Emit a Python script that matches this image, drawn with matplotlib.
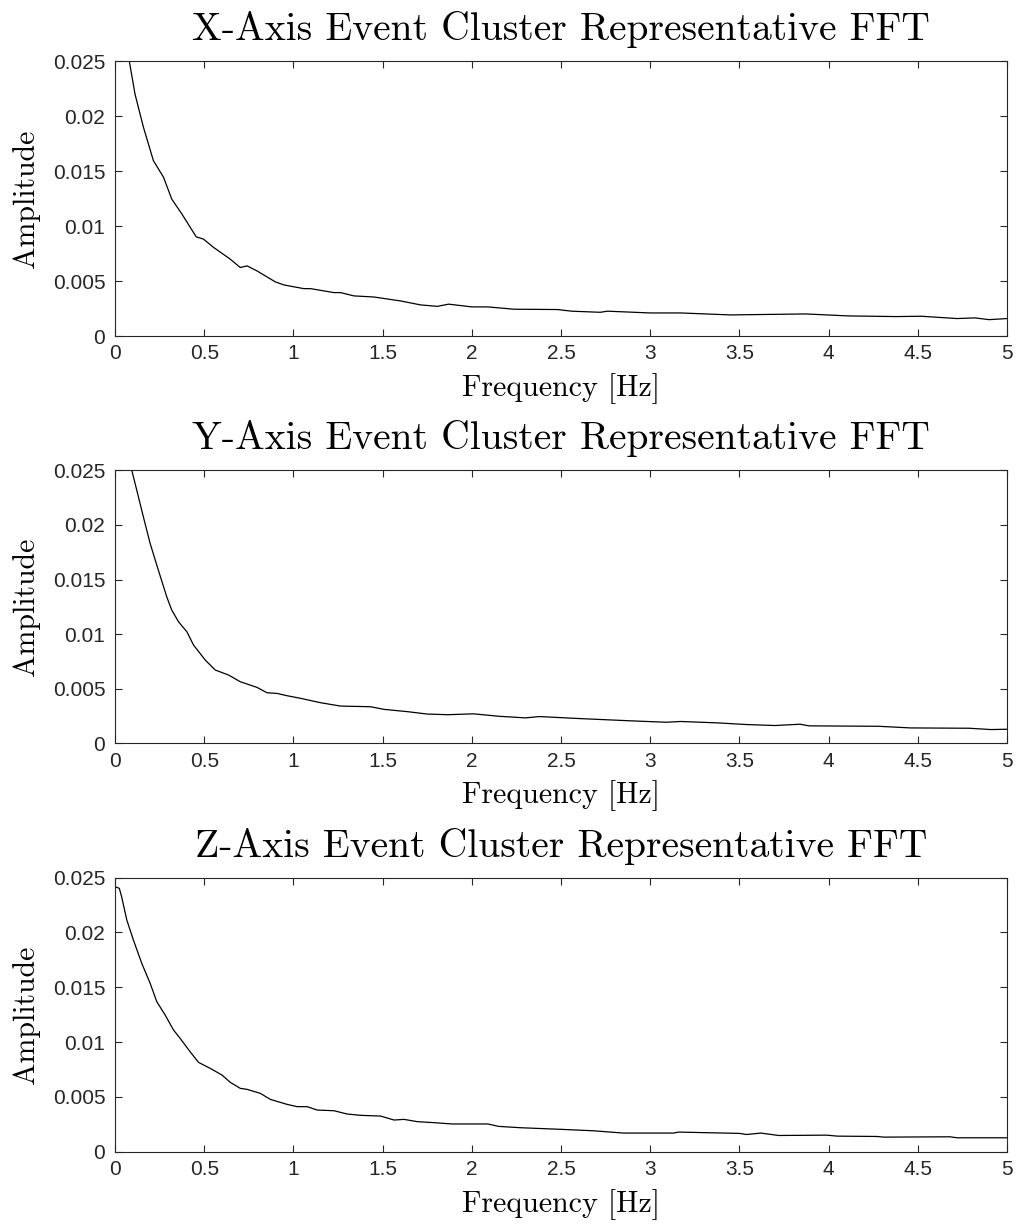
import matplotlib
matplotlib.use("Agg")
import matplotlib.pyplot as plt
import numpy as np

# frequency [Hz] / amplitude values
x_freq = [0.0, 0.04, 0.08, 0.112, 0.159, 0.215, 0.272, 0.318, 0.375, 0.455, 0.496, 0.553,
          0.646, 0.702, 0.740, 0.796, 0.899, 0.946, 1.058, 1.096, 1.227, 1.264, 1.339,
          1.451, 1.601, 1.713, 1.807, 1.87, 2.0, 2.09, 2.235, 2.48, 2.56, 2.72, 2.76,
          3.0, 3.17, 3.45, 3.87, 4.11, 4.38, 4.52, 4.72, 4.82, 4.90, 5.0]
x_amp = [0.031, 0.028, 0.0250, 0.0220, 0.0190, 0.01595, 0.01443, 0.01245, 0.01109, 0.00902,
         0.00881, 0.00805, 0.00699, 0.00623, 0.00638, 0.00592, 0.00492, 0.00465, 0.00431,
         0.00431, 0.00395, 0.00395, 0.00365, 0.00355, 0.00319, 0.00283, 0.0027, 0.0029,
         0.00265, 0.00265, 0.00244, 0.00241, 0.00226, 0.00216, 0.00226, 0.0021, 0.0021,
         0.00192, 0.00201, 0.00183, 0.00177, 0.0018, 0.00159, 0.00165, 0.00149, 0.00159]

y_freq = [0.0, 0.05, 0.094, 0.122, 0.159, 0.197, 0.243, 0.29, 0.318, 0.356, 0.403, 0.44,
          0.506, 0.562, 0.637, 0.702, 0.796, 0.852, 0.908, 0.964, 1.04, 1.152, 1.264,
          1.433, 1.507, 1.639, 1.75, 1.863, 2.01, 2.15, 2.3, 2.38, 2.6, 2.89, 3.09, 3.17,
          3.38, 3.54, 3.70, 3.84, 3.89, 4.28, 4.46, 4.79, 4.91, 5.0]
y_amp = [0.033, 0.029, 0.025, 0.02317, 0.02073, 0.01829, 0.01585, 0.01341, 0.0122, 0.01113,
         0.01021, 0.009, 0.00762, 0.00671, 0.00625, 0.00564, 0.00512, 0.00463, 0.00457,
         0.00436, 0.00412, 0.00372, 0.00341, 0.00335, 0.00311, 0.0029, 0.00268, 0.00262,
         0.0027, 0.00248, 0.00233, 0.00245, 0.00227, 0.00206, 0.00193, 0.002, 0.00187,
         0.00172, 0.00163, 0.00175, 0.0016, 0.00156, 0.00141, 0.00138, 0.00126, 0.00129]

z_freq = [0.0, 0.024, 0.037, 0.066, 0.103, 0.15, 0.197, 0.234, 0.281, 0.328, 0.365, 0.421,
          0.468, 0.534, 0.599, 0.646, 0.702, 0.74, 0.815, 0.871, 0.964, 1.021, 1.077,
          1.133, 1.227, 1.301, 1.376, 1.489, 1.564, 1.62, 1.695, 1.788, 1.89, 2.09, 2.15,
          2.27, 2.5, 2.68, 2.85, 3.13, 3.16, 3.5, 3.54, 3.62, 3.72, 3.99, 4.05, 4.27, 4.31,
          4.68, 4.72, 5.0]
z_amp = [0.02418, 0.02403, 0.02327, 0.02114, 0.01931, 0.01718, 0.01536, 0.01369, 0.01247,
         0.0111, 0.01034, 0.00912, 0.00815, 0.0076, 0.007, 0.00633, 0.00578, 0.00569,
         0.00532, 0.00477, 0.00432, 0.00411, 0.00411, 0.0038, 0.00374, 0.00344, 0.00332,
         0.00325, 0.00289, 0.00295, 0.00274, 0.00265, 0.00253, 0.00253, 0.00231, 0.00219,
         0.00204, 0.00191, 0.0017, 0.0017, 0.00179, 0.00167, 0.00157, 0.0017, 0.00148,
         0.00151, 0.00142, 0.00139, 0.00133, 0.00136, 0.00127, 0.00127]

titles = ["X-Axis Event Cluster Representative FFT",
          "Y-Axis Event Cluster Representative FFT",
          "Z-Axis Event Cluster Representative FFT"]
xticks = [0, 0.5, 1, 1.5, 2, 2.5, 3, 3.5, 4, 4.5, 5]
xticklabels = ["0", "0.5", "1", "1.5", "2", "2.5", "3", "3.5", "4", "4.5", "5"]
yticks = [0, 0.005, 0.01, 0.015, 0.02, 0.025]
yticklabels = ["0", "0.005", "0.01", "0.015", "0.02", "0.025"]

series = [(x_freq, x_amp), (y_freq, y_amp), (z_freq, z_amp)]

fig = plt.figure(figsize=(10.17, 12.26), dpi=100)
# axes boxes [left, bottom, width, height] in figure fraction
boxes = [[0.1131, 0.7259, 0.8771, 0.2243],
         [0.1131, 0.3937, 0.8771, 0.2227],
         [0.1131, 0.0606, 0.8771, 0.2235]]
grey = "#262626"
for i in range(3):
    ax = fig.add_axes(boxes[i])
    ax.plot(series[i][0], series[i][1], color="black", linewidth=0.9)
    ax.set_xlim(0, 5)
    ax.set_ylim(0, 0.025)
    ax.set_xticks(xticks)
    ax.set_xticklabels(xticklabels, family="Liberation Sans", fontsize=15, color=grey)
    ax.set_yticks(yticks)
    ax.set_yticklabels(yticklabels, family="Liberation Sans", fontsize=15, color=grey)
    ax.tick_params(direction="in", top=True, right=True, length=5, width=0.8, color=grey)
    ax.tick_params(axis="x", pad=6)
    ax.tick_params(axis="y", pad=7)
    for s in ax.spines.values():
        s.set_color(grey)
        s.set_linewidth(0.8)
    ax.set_title(titles[i], family="cmr10", fontsize=28.5, pad=15)
    ax.set_xlabel("Frequency [Hz]", family="cmr10", fontsize=21.5, labelpad=7)
    ax.set_ylabel("Amplitude", family="cmr10", fontsize=21.5, labelpad=9)

fig.savefig("out.png", dpi=100)
